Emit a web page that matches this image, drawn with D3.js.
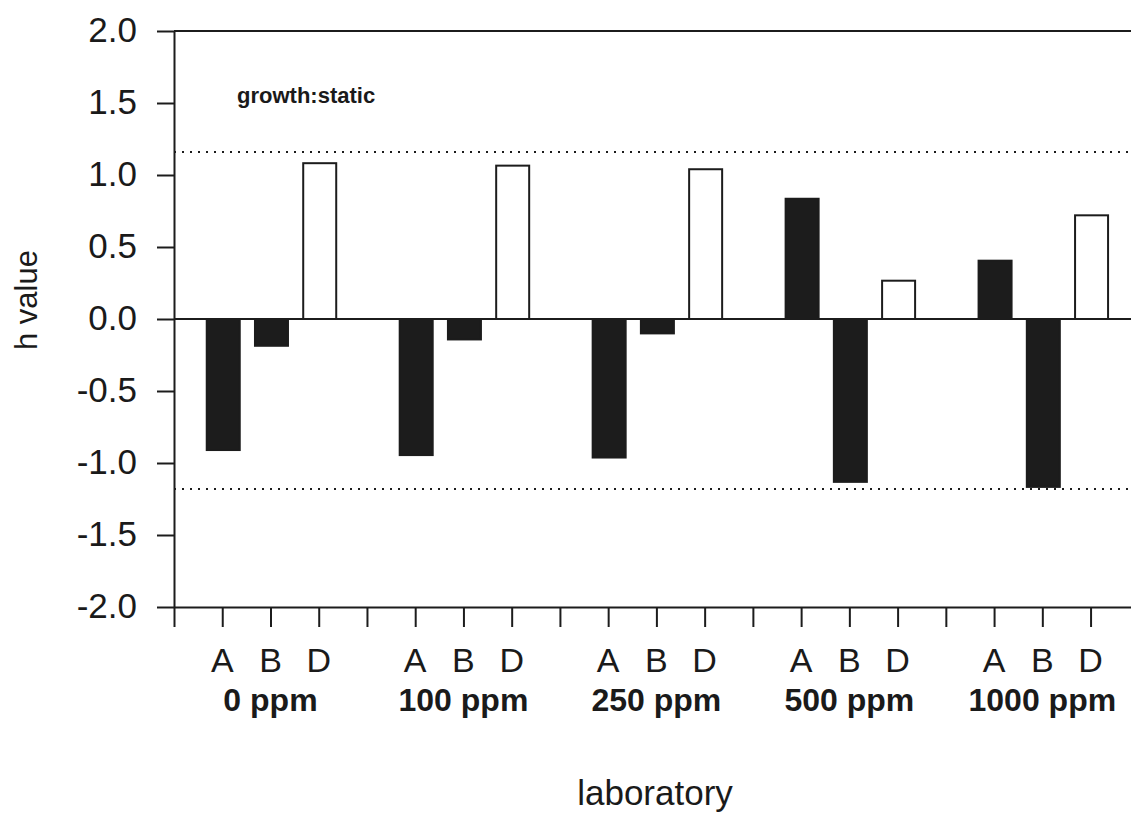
<!DOCTYPE html>
<html>
<head>
<meta charset="utf-8">
<script src="https://cdn.jsdelivr.net/npm/d3@7"></script>
<style>
  html, body { margin: 0; padding: 0; background: #fff; }
  svg { display: block; }
  text { font-family: "Liberation Sans", Arial, sans-serif; fill: #1a1a1a; }
</style>
</head>
<body>
<svg id="chart" width="1131" height="813"></svg>
<script>
// ---- data ----
const groups = ["0 ppm", "100 ppm", "250 ppm", "500 ppm", "1000 ppm"];
const labs = ["A", "B", "D"];
const valuesA = [-0.91, -0.945, -0.962, 0.835, 0.405];
const valuesB = [-0.186, -0.142, -0.10, -1.131, -1.166];
const valuesD = [1.082, 1.065, 1.04, 0.266, 0.72];
const yTickValues = [2.0, 1.5, 1.0, 0.5, 0.0, -0.5, -1.0, -1.5, -2.0];
const yTickLabels = ["2.0", "1.5", "1.0", "0.5", "0.0", "-0.5", "-1.0", "-1.5", "-2.0"];
const limitUpper = 1.16;
const limitLower = -1.18;
const annotation = "growth:static";
const yTitle = "h value";
const xTitle = "laboratory";

// ---- build records: each group occupies 4 slots (blank, A, B, D) ----
const seriesByLab = { A: valuesA, B: valuesB, D: valuesD };
const records = [];
groups.forEach((g, gi) => {
  labs.forEach((lab, li) => {
    records.push({ group: g, lab: lab, slot: gi * 4 + 1 + li, value: seriesByLab[lab][gi] });
  });
});

const svg = d3.select("#chart");
const ink = "#1c1c1c";

const x = d3.scaleLinear().domain([0, 20]).range([174, 174 + 20 * 48.24]);
const y = d3.scaleLinear().domain([-2, 2]).range([607, 31]);

// frame top line
svg.append("line")
  .attr("x1", x(0)).attr("x2", x(20)).attr("y1", y(2)).attr("y2", y(2))
  .attr("stroke", ink).attr("stroke-width", 2);

// limit lines (dotted)
[limitUpper, limitLower].forEach(v => {
  svg.append("line")
    .attr("x1", x(0)).attr("x2", x(20)).attr("y1", y(v)).attr("y2", y(v))
    .attr("stroke", ink).attr("stroke-width", 2)
    .attr("stroke-dasharray", "2,6");
});

// bars
const barW = 33;
svg.append("g").selectAll("rect")
  .data(records)
  .join("rect")
  .attr("x", d => x(d.slot) - barW / 2 + 1)
  .attr("width", barW)
  .attr("y", d => y(Math.max(0, d.value)))
  .attr("height", d => Math.abs(y(d.value) - y(0)))
  .attr("fill", d => d.lab === "D" ? "#fff" : ink)
  .attr("stroke", ink)
  .attr("stroke-width", 2);

// zero line
svg.append("line")
  .attr("x1", x(0)).attr("x2", x(20)).attr("y1", y(0)).attr("y2", y(0))
  .attr("stroke", ink).attr("stroke-width", 2);

// y axis
const yAxis = d3.axisLeft(y)
  .tickValues(yTickValues)
  .tickFormat((d, i) => yTickLabels[i])
  .tickSize(17)
  .tickSizeOuter(0)
  .tickPadding(20);
const gy = svg.append("g").attr("transform", `translate(${x(0)},0)`).call(yAxis);
gy.select(".domain").attr("stroke", ink).attr("stroke-width", 2);
gy.selectAll(".tick line").attr("stroke", ink).attr("stroke-width", 2);
gy.selectAll(".tick text")
  .style("font-family", "'Liberation Sans', Arial, sans-serif")
  .style("font-size", "35px")
  .attr("fill", ink)
  .attr("dy", "0.3em");

// x axis
const xAxis = d3.axisBottom(x)
  .tickValues(d3.range(0, 20))
  .tickFormat("")
  .tickSize(20)
  .tickSizeOuter(0);
const gx = svg.append("g").attr("transform", `translate(0,${y(-2)})`).call(xAxis);
gx.select(".domain").attr("stroke", ink).attr("stroke-width", 2);
gx.selectAll(".tick line").attr("stroke", ink).attr("stroke-width", 2);

// lab letters
svg.append("g").selectAll("text")
  .data(records)
  .join("text")
  .attr("x", d => x(d.slot))
  .attr("y", 672)
  .attr("text-anchor", "middle")
  .style("font-size", "34px")
  .text(d => d.lab);

// group labels (centered under B)
svg.append("g").selectAll("text")
  .data(groups)
  .join("text")
  .attr("x", (d, i) => x(i * 4 + 2))
  .attr("y", 711)
  .attr("text-anchor", "middle")
  .style("font-size", "32px")
  .style("font-weight", "bold")
  .text(d => d);

// annotation
svg.append("text")
  .attr("x", 237).attr("y", 103)
  .style("font-size", "22px").style("font-weight", "bold")
  .text(annotation);

// axis titles
svg.append("text")
  .attr("x", 655).attr("y", 805)
  .attr("text-anchor", "middle")
  .style("font-size", "35px")
  .text(xTitle);

svg.append("text")
  .attr("transform", "translate(37,300) rotate(-90)")
  .attr("text-anchor", "middle")
  .style("font-size", "31px")
  .text(yTitle);
</script>
</body>
</html>
